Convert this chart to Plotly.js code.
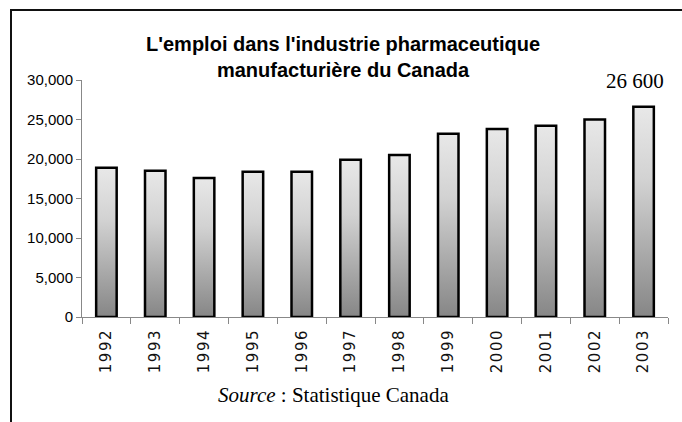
<!DOCTYPE html>
<html>
<head>
<meta charset="utf-8">
<script src="https://cdn.plot.ly/plotly-3.0.1.min.js"></script>
<style>
  body { margin: 0; background: #fff; }
  #wrap { position: relative; width: 682px; height: 422px; }
  #c1 { width: 682px; height: 422px; }
  #frame {
    position: absolute; left: 10px; top: 9px; right: -5px; bottom: -5px;
    border-top: 2px solid #111; border-left: 2px solid #111;
    pointer-events: none;
  }
  .xtick text { letter-spacing: 1.5px; }
</style>
</head>
<body>
<div id="wrap">
  <div id="c1"></div>
  <div id="frame"></div>
</div>
<script>
// emplois, industrie pharmaceutique manufacturiere (Statistique Canada)
var years = ['1992', '1993', '1994', '1995', '1996', '1997', '1998', '1999', '2000', '2001', '2002', '2003'];
var emplois = [18900, 18500, 17600, 18400, 18400, 19900, 20500, 23200, 23800, 24200, 25000, 26600];
var yTicks = [0, 5000, 10000, 15000, 20000, 25000, 30000];

var last = emplois.length - 1;
// "26 600" -> espace comme separateur de milliers
var lastLabel = String(emplois[last]).replace(/\B(?=(\d{3})+(?!\d))/g, ' ');

var trace1 = {
  x: years,
  y: emplois,
  type: 'bar',
  marker: {
    color: '#c8c8c8',
    line: { color: '#000', width: 2.5 }
  },
  hoverinfo: 'none'
};

var layout = {
  width: 682,
  height: 422,
  margin: { l: 82, r: 14, t: 80, b: 105 },
  paper_bgcolor: '#fff',
  plot_bgcolor: '#fff',
  showlegend: false,
  bargap: 0.58,
  font: { family: 'Liberation Sans, Arial, sans-serif', color: '#000' },
  title: {
    text: "<b>L'emploi dans l'industrie pharmaceutique<br>manufacturière du Canada</b>",
    font: { family: 'Liberation Sans, Arial, sans-serif', size: 20, color: '#000' },
    xref: 'container', x: 0.503, xanchor: 'center',
    yref: 'container', y: 0.878, yanchor: 'top'
  },
  xaxis: {
    type: 'category',
    range: [-0.5, years.length - 0.5],
    showgrid: false,
    showline: true, linecolor: '#888', linewidth: 1,
    ticks: 'outside', ticklen: 6, tickcolor: '#888', tickwidth: 1,
    tickson: 'boundaries',
    tickangle: -90,
    ticklabelstandoff: 5,
    tickfont: { family: 'DejaVu Sans, sans-serif', size: 15, color: '#111' },
    fixedrange: true
  },
  yaxis: {
    range: [0, 30000],
    tickvals: yTicks,
    tickformat: ',d',
    showgrid: false,
    zeroline: false,
    showline: true, linecolor: '#888', linewidth: 1,
    ticks: 'outside', ticklen: 5, tickcolor: '#888', tickwidth: 1,
    tickfont: { family: 'Liberation Sans, Arial, sans-serif', size: 15, color: '#000' },
    fixedrange: true
  },
  annotations: [
    {
      // sur un axe categorie, x est l'indice de la categorie
      x: last, y: emplois[last],
      xref: 'x', yref: 'y',
      text: lastLabel,
      showarrow: false,
      xanchor: 'center', yanchor: 'bottom',
      xshift: -9, yshift: 12,
      font: { family: 'Liberation Serif, Times New Roman, serif', size: 21, color: '#000' }
    },
    {
      x: 0.43, y: -0.33,
      xref: 'paper', yref: 'paper',
      text: '<i>Source</i> : Statistique Canada',
      showarrow: false,
      xanchor: 'center', yanchor: 'middle',
      font: { family: 'Liberation Serif, Times New Roman, serif', size: 21, color: '#000' }
    }
  ]
};

Plotly.newPlot('c1', [trace1], layout, { displayModeBar: false, staticPlot: true }).then(function (gd) {
  // degrade vertical clair -> fonce dans chaque barre
  var ns = 'http://www.w3.org/2000/svg';
  var svg = gd.querySelector('.main-svg');
  var defs = svg.querySelector('defs');
  var grad = document.createElementNS(ns, 'linearGradient');
  grad.setAttribute('id', 'barGrad');
  grad.setAttribute('x1', '0'); grad.setAttribute('y1', '0');
  grad.setAttribute('x2', '0'); grad.setAttribute('y2', '1');
  [['0', '#e8e8e8'], ['0.35', '#d2d2d2'], ['1', '#868686']].forEach(function (s) {
    var st = document.createElementNS(ns, 'stop');
    st.setAttribute('offset', s[0]);
    st.setAttribute('stop-color', s[1]);
    grad.appendChild(st);
  });
  defs.appendChild(grad);
  gd.querySelectorAll('.barlayer .point path').forEach(function (p) {
    p.style.fill = 'url(#barGrad)';
  });
});
</script>
</body>
</html>
